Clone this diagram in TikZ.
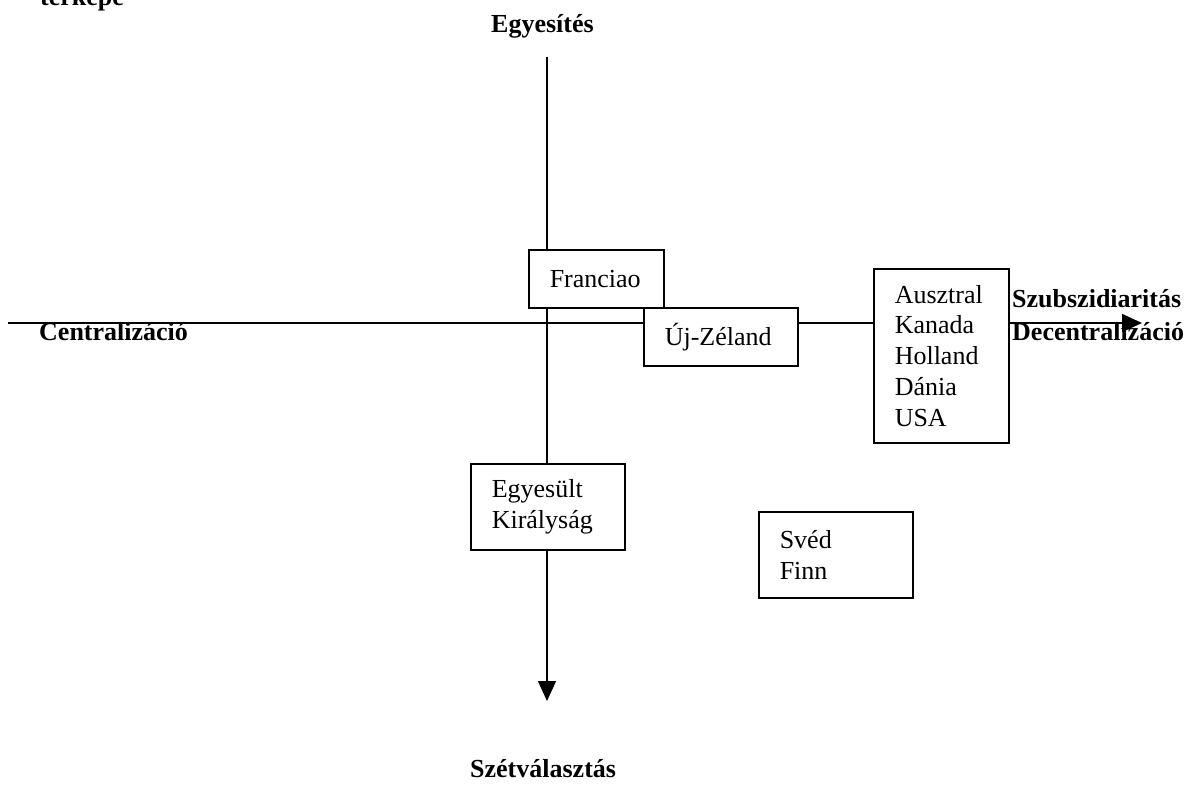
\documentclass[tikz,border=0pt]{standalone}
\usepackage{fontspec}
\setmainfont{Liberation Serif}
\usetikzlibrary{arrows.meta,positioning}

\begin{document}
\begin{tikzpicture}[x=1pt,y=-1pt,
                    box/.style={draw,fill=white,line width=1.5pt,anchor=north west,inner xsep=21pt,inner ysep=0pt,align=left,font=\fontsize{26}{30.75}\selectfont},
                    axis label/.style={anchor=base west,inner sep=0pt,font=\fontsize{26}{30}\selectfont\bfseries},
                    axis/.style={line width=1.5pt,-{Triangle[length=20pt,width=18pt]}}]

  \useasboundingbox (0,0) rectangle (1189,789);

  \coordinate (left) at (8,323);
  \coordinate (right) at (1142,323);
  \coordinate (top) at (547,57);
  \coordinate (bottom) at (547,701);

  \draw[axis] (left) -- (right);
  \draw[axis] (top) -- (bottom);

  \node[box,text width=93pt,minimum height=58pt] (franciao) at (528,249) {Franciao};
  \node[box,text width=112pt,minimum height=58pt] (ujzeland) at (643,307) {Új-Zéland};
  \node[box,text width=93pt,minimum height=174pt] (ausztral) at (873,268) {Ausztral\\Kanada\\Holland\\Dánia\\USA};
  \node[box,text width=112pt,minimum height=86pt] (egyesult) at (470,463) {Egyesült\\Királyság};
  \node[box,text width=112pt,minimum height=86pt] (sved) at (758,511) {Svéd\\Finn};

  \node[axis label] (terkepe) at (40,6) {térképe};
  \node[axis label] (egyesites) at (491,33) {Egyesítés};
  \node[axis label] (szetvalasztas) at (470,777) {Szétválasztás};
  \node[axis label] (centralizacio) at (39,340) {Centralizáció};
  \node[axis label] (szubszidiaritas) at (1012,307) {Szubszidiaritás};
  \node[axis label] (decentralizacio) at (1012,340) {Decentralizáció};

\end{tikzpicture}
\end{document}
